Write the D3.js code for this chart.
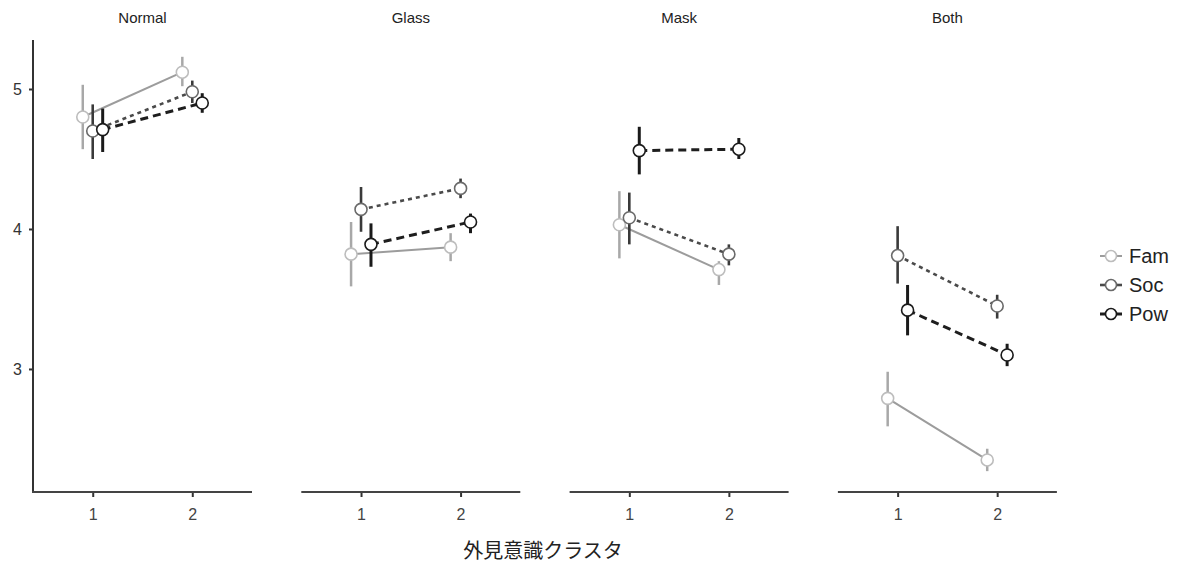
<!DOCTYPE html>
<html>
<head>
<meta charset="utf-8">
<script src="https://cdn.jsdelivr.net/npm/d3@7"></script>
<style>
  html, body { margin: 0; padding: 0; background: #fff; }
  svg { display: block; }
  text { font-family: "Liberation Sans", Arial, sans-serif; }
</style>
</head>
<body>
<svg id="chart" width="1193" height="565"></svg>
<script>
// Facets, groups and x categories
const panels = ["Normal", "Glass", "Mask", "Both"];
const groups = ["Fam", "Soc", "Pow"];
const clusters = [1, 2];
const yTicks = [3, 4, 5];
const xTitle = "外見意識クラスタ";

// Means per panel (cluster 1, cluster 2)
const famMean = [[4.80, 5.12], [3.82, 3.87], [4.03, 3.71], [2.79, 2.35]];
const socMean = [[4.70, 4.98], [4.14, 4.29], [4.08, 3.82], [3.81, 3.45]];
const powMean = [[4.71, 4.90], [3.89, 4.05], [4.56, 4.57], [3.42, 3.10]];

// Interval lower bounds
const famLow = [[4.57, 5.02], [3.59, 3.77], [3.79, 3.60], [2.59, 2.27]];
const socLow = [[4.50, 4.90], [3.98, 4.22], [3.89, 3.74], [3.61, 3.36]];
const powLow = [[4.55, 4.83], [3.73, 3.97], [4.39, 4.50], [3.24, 3.02]];

// Interval upper bounds
const famHigh = [[5.03, 5.23], [4.05, 3.97], [4.27, 3.77], [2.98, 2.43]];
const socHigh = [[4.89, 5.06], [4.30, 4.36], [4.26, 3.89], [4.02, 3.53]];
const powHigh = [[4.86, 4.97], [4.04, 4.11], [4.73, 4.65], [3.60, 3.18]];

const means = { Fam: famMean, Soc: socMean, Pow: powMean };
const lows = { Fam: famLow, Soc: socLow, Pow: powLow };
const highs = { Fam: famHigh, Soc: socHigh, Pow: powHigh };

// Styling per group
const style = {
  Fam: { line: "#9c9c9c", lw: 2, dash: null, err: "#a8a8a8", ew: 2.5, pt: "#bdbdbd" },
  Soc: { line: "#4a4a4a", lw: 2.6, dash: "4,4", err: "#3a3a3a", ew: 2.6, pt: "#6a6a6a" },
  Pow: { line: "#1e1e1e", lw: 3, dash: "8,5", err: "#1a1a1a", ew: 3, pt: "#1a1a1a" }
};
const dodge = { Fam: -0.1, Soc: 0, Pow: 0.1 };

const svg = d3.select("#chart");

const panelLeft0 = 33, panelW = 219, panelStep = 268.3;
const plotTop = 40, plotBottom = 492;

const y = d3.scaleLinear().domain([2.121, 5.35]).range([plotBottom, plotTop]);

// Y axis (shared, left side only)
const yAxis = d3.axisLeft(y).tickValues(yTicks).tickFormat(d3.format("d")).tickSize(4).tickPadding(7);
const gy = svg.append("g").attr("transform", `translate(${panelLeft0},0)`).call(yAxis);
gy.select(".domain").remove();
gy.append("line").attr("x1", 0).attr("x2", 0).attr("y1", plotTop).attr("y2", plotBottom + 1)
  .attr("stroke", "#333").attr("stroke-width", 2);
gy.selectAll(".tick line").attr("stroke", "#333").attr("stroke-width", 2);
gy.selectAll(".tick text").attr("fill", "#333").style("font-size", "16px")
  .style("font-family", "'Liberation Sans', Arial, sans-serif");

panels.forEach((name, pi) => {
  const x0 = panelLeft0 + pi * panelStep;
  const x = d3.scaleLinear().domain([0.4, 2.6]).range([x0, x0 + panelW]);
  const g = svg.append("g");

  // Facet title
  g.append("text").attr("x", x0 + panelW / 2).attr("y", 23)
    .attr("text-anchor", "middle").attr("fill", "#222").style("font-size", "15px").text(name);

  // Bottom axis
  const xAxis = d3.axisBottom(x).tickValues(clusters).tickFormat(d3.format("d")).tickSize(5).tickPadding(12);
  const gx = g.append("g").attr("transform", `translate(0,${plotBottom})`).call(xAxis);
  gx.select(".domain").remove();
  gx.append("line").attr("x1", x0 - (pi === 0 ? 1 : 0)).attr("x2", x0 + panelW).attr("y1", 0).attr("y2", 0)
    .attr("stroke", "#444").attr("stroke-width", 2);
  gx.selectAll(".tick line").attr("stroke", "#333").attr("stroke-width", 2);
  gx.selectAll(".tick text").attr("fill", "#444").style("font-size", "16px")
    .style("font-family", "'Liberation Sans', Arial, sans-serif");

  const line = d3.line().x(d => x(d.c + d.dx)).y(d => y(d.m));

  groups.forEach(gr => {
    const s = style[gr];
    const pts = clusters.map((c, ci) => ({
      c, dx: dodge[gr], m: means[gr][pi][ci], lo: lows[gr][pi][ci], hi: highs[gr][pi][ci]
    }));
    g.append("path").datum(pts).attr("d", line).attr("fill", "none")
      .attr("stroke", s.line).attr("stroke-width", s.lw)
      .attr("stroke-dasharray", s.dash);
    g.selectAll(null).data(pts).enter().append("line")
      .attr("x1", d => x(d.c + d.dx)).attr("x2", d => x(d.c + d.dx))
      .attr("y1", d => y(d.lo)).attr("y2", d => y(d.hi))
      .attr("stroke", s.err).attr("stroke-width", s.ew);
    g.selectAll(null).data(pts).enter().append("circle")
      .attr("cx", d => x(d.c + d.dx)).attr("cy", d => y(d.m)).attr("r", 6)
      .attr("fill", "#fff").attr("stroke", s.pt).attr("stroke-width", 1.6);
  });
});

// X axis title
svg.append("text").attr("x", 543).attr("y", 558).attr("text-anchor", "middle")
  .attr("fill", "#222").style("font-size", "20px")
  .style("font-family", "'Noto Sans CJK JP', sans-serif").text(xTitle);

// Legend
const lg = svg.append("g");
groups.forEach((gr, i) => {
  const s = style[gr];
  const ly = 256 + i * 29;
  lg.append("line").attr("x1", 1100).attr("x2", 1122).attr("y1", ly).attr("y2", ly)
    .attr("stroke", s.line).attr("stroke-width", s.lw);
  lg.append("circle").attr("cx", 1111).attr("cy", ly).attr("r", 5.5)
    .attr("fill", "#fff").attr("stroke", s.pt).attr("stroke-width", 1.6);
  lg.append("text").attr("x", 1129).attr("y", ly + 7).attr("fill", "#222")
    .style("font-size", "20px").text(gr);
});
</script>
</body>
</html>
